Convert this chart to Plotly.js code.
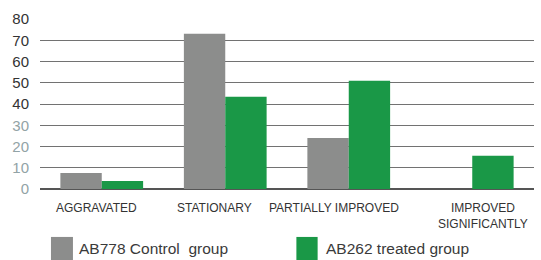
<!DOCTYPE html>
<html><head><meta charset="utf-8">
<script src="https://cdn.plot.ly/plotly-3.0.1.min.js"></script>
<style>html,body{margin:0;padding:0;background:#fff}#chart{width:541px;height:260px}</style>
</head><body><div id="chart"></div>
<script>
var categories = ["AGGRAVATED", "STATIONARY", "PARTIALLY IMPROVED", "IMPROVED<br>SIGNIFICANTLY"];
var controlName = "AB778 Control  group";
var treatedName = "AB262 treated group";
var controlValues = [7.5, 73.1, 24.0, 0];
var treatedValues = [3.8, 43.4, 50.9, 15.6];
var yTickVals = [0, 10, 20, 30, 40, 50, 60, 70, 80];
var yTickText = ["0", "10", "20", "30", "40", "50", "60", "70", "80"];

// label placement offsets (px), styling only
var labelShift = [-5.5, -10.5, -14.5, 11];

var colors = {control: "#8c8d8c", treated: "#1a9847"};
var lightTick = "#92a3a6", darkTick = "#333333";
var styledTicks = yTickText.map(function(t, i){
  var c = yTickVals[i] <= 30 ? lightTick : darkTick;
  return '<span style="color:' + c + '">' + t + '</span>';
});

var traces = [
  {type: "bar", name: controlName, x: categories, y: controlValues, marker: {color: colors.control}, showlegend: false},
  {type: "bar", name: treatedName, x: categories, y: treatedValues, marker: {color: colors.treated}, showlegend: false}
];

var fontFam = "Liberation Sans, Arial, sans-serif";
var legendItems = [
  {name: controlName, color: colors.control, x0: 0.0222, x1: 0.0667, tx: 0.0747},
  {name: treatedName, color: colors.treated, x0: 0.519, x1: 0.562, tx: 0.574}
];
var shapes = legendItems.map(function(it){
  return {type: "rect", xref: "paper", yref: "paper", x0: it.x0, x1: it.x1, y0: -0.282, y1: -0.418,
          fillcolor: it.color, line: {width: 0}};
});
var annotations = legendItems.map(function(it){
  return {xref: "paper", yref: "paper", x: it.tx, y: -0.352, xanchor: "left", yanchor: "middle",
          text: it.name, showarrow: false, font: {family: fontFam, size: 15.5, color: "#3a3a3a"}};
});
categories.forEach(function(c, i){
  annotations.push({xref: "x", yref: "y", x: c, y: 0, xanchor: "center", yanchor: "top",
    xshift: labelShift[i], yshift: -10, text: c, showarrow: false, align: "center",
    font: {family: fontFam, size: 12, color: "#333"}});
});

var layout = {
  width: 541, height: 260,
  margin: {l: 40, r: 7, t: 19, b: 71},
  paper_bgcolor: "#fff", plot_bgcolor: "#fff",
  barmode: "group", bargap: 0.33, bargroupgap: 0,
  font: {family: fontFam, color: "#333"},
  xaxis: {
    type: "category", showgrid: false, zeroline: false, showline: false, ticks: "",
    showticklabels: false
  },
  yaxis: {
    range: [0, 80], tickvals: yTickVals, ticktext: styledTicks,
    showgrid: true, gridcolor: "#727272", gridwidth: 1,
    zeroline: true, zerolinecolor: "#555", zerolinewidth: 1.2,
    showline: false, ticks: "", ticklabelstandoff: 10,
    tickfont: {size: 15, color: "#333"}
  },
  shapes: shapes,
  annotations: annotations
};

Plotly.newPlot("chart", traces, layout, {displayModeBar: false, staticPlot: true});
</script></body></html>
